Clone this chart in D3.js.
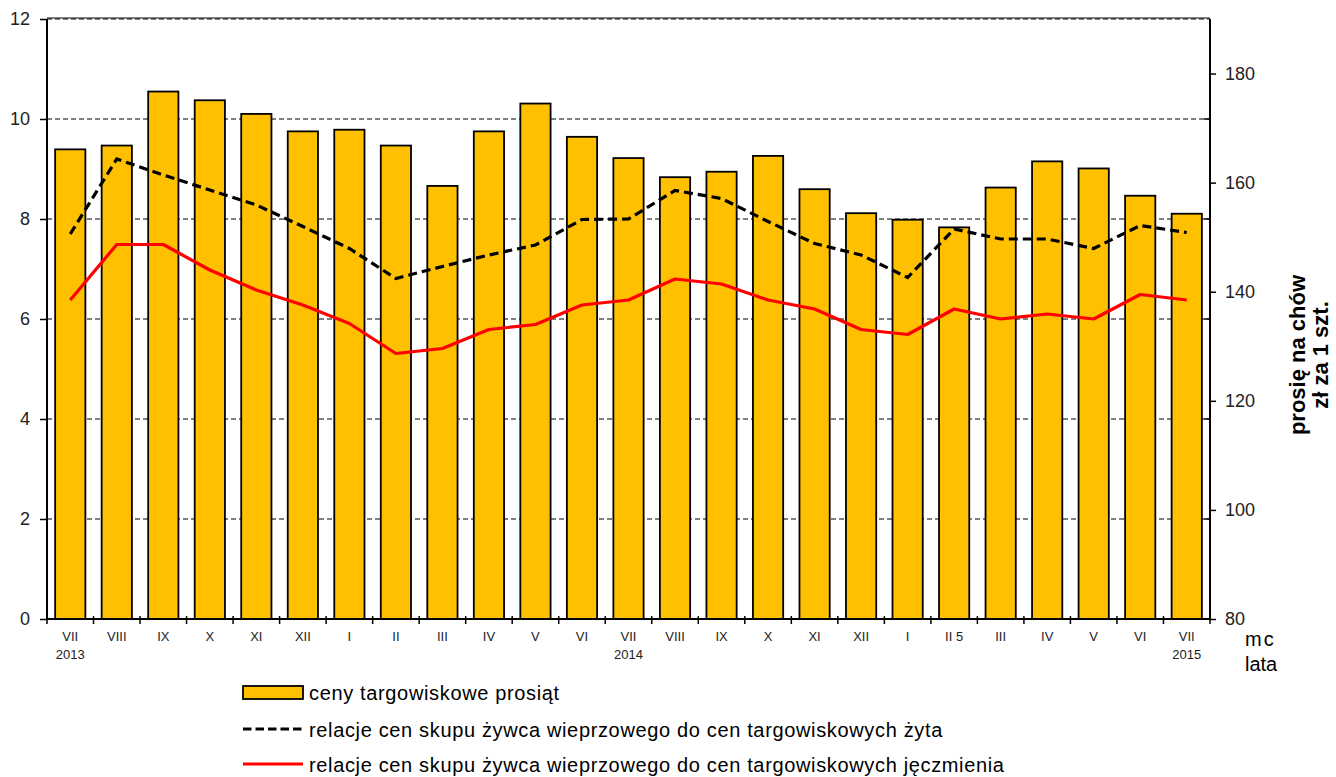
<!DOCTYPE html>
<html>
<head>
<meta charset="utf-8">
<script src="https://cdn.jsdelivr.net/npm/d3@7"></script>
<style>
  body { margin: 0; background: #fff; }
  svg { display: block; font-family: "Liberation Sans", Arial, sans-serif; }
</style>
</head>
<body>
<svg id="chart" width="1336" height="777"></svg>
<script>
// miesiące i lata pod osią X
const months = ['VII', 'VIII', 'IX', 'X', 'XI', 'XII', 'I', 'II', 'III', 'IV', 'V', 'VI',
  'VII', 'VIII', 'IX', 'X', 'XI', 'XII', 'I', 'II 5', 'III', 'IV', 'V', 'VI', 'VII'];
const years = ['2013', '', '', '', '', '', '', '', '', '', '', '',
  '2014', '', '', '', '', '', '', '', '', '', '', '', '2015'];

// ceny targowiskowe prosiąt (zł za 1 szt.) - prawa oś
const prices = [166.1, 166.8, 176.7, 175.1, 172.6, 169.4, 169.7, 166.8, 159.4, 169.4, 174.5, 168.4,
  164.5, 161.0, 162.0, 164.9, 158.8, 154.4, 153.2, 151.8, 159.1, 163.9, 162.6, 157.6, 154.3];
// relacje cen - lewa oś
const ryeRatio = [7.70, 9.20, 8.88, 8.58, 8.28, 7.85, 7.41, 6.81, 7.05, 7.28, 7.48, 7.99,
  8.00, 8.57, 8.41, 7.95, 7.51, 7.28, 6.83, 7.80, 7.60, 7.60, 7.41, 7.87, 7.73];
const barleyRatio = [6.38, 7.49, 7.49, 6.98, 6.58, 6.28, 5.91, 5.31, 5.41, 5.79, 5.89, 6.28,
  6.38, 6.80, 6.70, 6.38, 6.20, 5.79, 5.69, 6.20, 6.00, 6.10, 6.00, 6.49, 6.38];

const leftTicks = [0, 2, 4, 6, 8, 10, 12];
const rightTicks = [80, 100, 120, 140, 160, 180];

const legendLabels = [
  'ceny targowiskowe prosiąt',
  'relacje cen skupu żywca wieprzowego do cen targowiskowych żyta',
  'relacje cen skupu żywca wieprzowego do cen targowiskowych jęczmienia'
];

const svg = d3.select('#chart');
const plotLeft = 47, plotRight = 1210, plotTop = 19, plotBottom = 619;

const idx = d3.range(months.length);
const x = d3.scaleBand()
  .domain(idx)
  .range([plotLeft, plotRight])
  .paddingInner(0.35)
  .paddingOuter(0.175);
const step = x.step();

const yL = d3.scaleLinear().domain([0, 12]).range([plotBottom, plotTop]);
const yR = d3.scaleLinear().domain([80, 190]).range([plotBottom, plotTop]);

// linie siatki
svg.append('g')
  .selectAll('line')
  .data(leftTicks.filter(d => d > 0))
  .join('line')
  .attr('x1', plotLeft).attr('x2', plotRight)
  .attr('y1', d => yL(d)).attr('y2', d => yL(d))
  .attr('stroke', '#000')
  .attr('stroke-width', 1)
  .attr('stroke-dasharray', '5,3');

svg.append('line')
  .attr('x1', plotLeft).attr('x2', plotRight)
  .attr('y1', yL(12) - 1).attr('y2', yL(12) - 1)
  .attr('stroke', '#000').attr('stroke-width', 1);

// słupki
svg.append('g')
  .selectAll('rect')
  .data(prices)
  .join('rect')
  .attr('x', (d, i) => x(i))
  .attr('y', d => yR(d))
  .attr('width', x.bandwidth())
  .attr('height', d => yR(80) - yR(d))
  .attr('fill', '#ffc000')
  .attr('stroke', '#000')
  .attr('stroke-width', 1.8);

// linie
const line = d3.line()
  .x((d, i) => x(i) + x.bandwidth() / 2)
  .y(d => yL(d));

svg.append('path')
  .datum(barleyRatio)
  .attr('d', line)
  .attr('fill', 'none')
  .attr('stroke', '#ff0000')
  .attr('stroke-width', 3.2)
  .attr('stroke-linejoin', 'round');

svg.append('path')
  .datum(ryeRatio)
  .attr('d', line)
  .attr('fill', 'none')
  .attr('stroke', '#000')
  .attr('stroke-width', 3.2)
  .attr('stroke-dasharray', '9,5');

// lewa oś
const axL = svg.append('g')
  .attr('transform', `translate(${plotLeft},0)`)
  .call(d3.axisLeft(yL).tickValues(leftTicks).tickSize(7).tickPadding(10));
axL.select('.domain').remove();
axL.selectAll('line').attr('stroke', '#000').attr('stroke-width', 1.5);
axL.selectAll('text').attr('font-size', 18).attr('fill', '#222')
  .attr('font-family', '"Liberation Sans", Arial, sans-serif');

svg.append('line')
  .attr('x1', plotLeft).attr('x2', plotLeft)
  .attr('y1', plotTop).attr('y2', plotBottom)
  .attr('stroke', '#000').attr('stroke-width', 2);

// prawa oś
const axR = svg.append('g')
  .attr('transform', `translate(${plotRight},0)`)
  .call(d3.axisRight(yR).tickValues(rightTicks).tickSize(6).tickPadding(9));
axR.select('.domain').remove();
axR.selectAll('line').attr('stroke', '#000').attr('stroke-width', 1.5);
axR.selectAll('text').attr('font-size', 18).attr('fill', '#222')
  .attr('font-family', '"Liberation Sans", Arial, sans-serif');

// drobne kreski od wewnątrz prawej osi (wartości lewej osi)
svg.append('g')
  .selectAll('line')
  .data(leftTicks.filter(d => d > 0 && d < 12))
  .join('line')
  .attr('x1', plotRight - 6).attr('x2', plotRight)
  .attr('y1', d => yL(d)).attr('y2', d => yL(d))
  .attr('stroke', '#000').attr('stroke-width', 1.5);

svg.append('line')
  .attr('x1', plotRight).attr('x2', plotRight)
  .attr('y1', plotTop).attr('y2', plotBottom)
  .attr('stroke', '#000').attr('stroke-width', 2);

// oś X
svg.append('line')
  .attr('x1', plotLeft).attr('x2', plotRight)
  .attr('y1', plotBottom).attr('y2', plotBottom)
  .attr('stroke', '#000').attr('stroke-width', 2);

svg.append('g')
  .selectAll('line')
  .data(d3.range(months.length + 1))
  .join('line')
  .attr('x1', i => plotLeft + i * step).attr('x2', i => plotLeft + i * step)
  .attr('y1', plotBottom - 3).attr('y2', plotBottom + 5)
  .attr('stroke', '#000').attr('stroke-width', 1.5);

const xl = svg.append('g')
  .attr('font-size', 13)
  .attr('fill', '#222')
  .attr('text-anchor', 'middle');
xl.selectAll('text.m')
  .data(months)
  .join('text')
  .attr('class', 'm')
  .attr('x', (d, i) => x(i) + x.bandwidth() / 2)
  .attr('y', 641)
  .text(d => d);
xl.selectAll('text.y')
  .data(years)
  .join('text')
  .attr('class', 'y')
  .attr('x', (d, i) => x(i) + x.bandwidth() / 2)
  .attr('y', 659)
  .text(d => d);

svg.append('text')
  .attr('x', 1245).attr('y', 646)
  .attr('font-size', 20).attr('fill', '#000')
  .attr('letter-spacing', 2)
  .text('mc');
svg.append('text')
  .attr('x', 1245).attr('y', 671)
  .attr('font-size', 20).attr('fill', '#000')
  .text('lata');

// tytuł prawej osi
const rt = svg.append('text')
  .attr('transform', 'translate(1305,355) rotate(-90)')
  .attr('text-anchor', 'middle')
  .attr('font-size', 22)
  .attr('font-weight', 'bold')
  .attr('fill', '#000');
rt.append('tspan').attr('x', 0).attr('dy', 0).text('prosię na chów');
rt.append('tspan').attr('x', 0).attr('dy', 23).text('zł za 1 szt.');

// legenda
const lg = svg.append('g').attr('transform', 'translate(243,0)');
const legY = [692.5, 729, 764];

lg.append('rect')
  .attr('x', 0).attr('y', legY[0] - 6.5)
  .attr('width', 60).attr('height', 13)
  .attr('fill', '#ffc000')
  .attr('stroke', '#000').attr('stroke-width', 1.8);
lg.append('line')
  .attr('x1', 0).attr('x2', 60)
  .attr('y1', legY[1]).attr('y2', legY[1])
  .attr('stroke', '#000').attr('stroke-width', 3.2)
  .attr('stroke-dasharray', '8.5,4');
lg.append('line')
  .attr('x1', 0).attr('x2', 60)
  .attr('y1', legY[2]).attr('y2', legY[2])
  .attr('stroke', '#ff0000').attr('stroke-width', 3.2);

lg.selectAll('text')
  .data(legendLabels)
  .join('text')
  .attr('x', 66)
  .attr('y', (d, i) => legY[i] + 7.5)
  .attr('font-size', 20)
  .attr('letter-spacing', 0.65)
  .attr('fill', '#000')
  .text(d => d);
</script>
</body>
</html>
